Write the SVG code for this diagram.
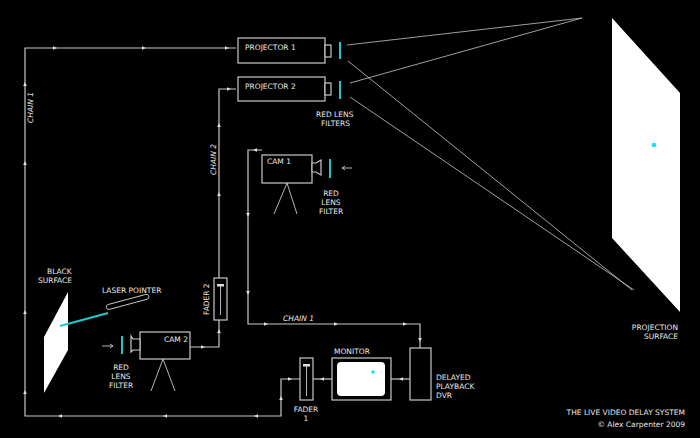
<svg xmlns="http://www.w3.org/2000/svg" width="700" height="438" viewBox="0 0 700 438">
<defs>
<style>
text{font-family:"DejaVu Sans","Liberation Sans",sans-serif;font-size:7.5px;fill:#e8e8e8}
.w{fill:none;stroke:#c8c8c8;stroke-width:1.2}
.b{fill:#000;stroke:#c8c8c8;stroke-width:1.2}
.c{stroke:#1ec8d0;stroke-width:2}
.t{fill:none;stroke:#c8c8c8;stroke-width:0.9}
</style>
<path id="a" d="M2,0 L-2,-1.8 L-2,1.8Z" fill="#e0e0e0"/>
</defs>
<rect width="700" height="438" fill="#000"/>
<g id="connectors">
<polyline class="w" points="236,48 25,48 25,416 281,416 281,379 300,379"/>
<polyline class="w" points="236,89 219,89 219,278"/>
<polyline class="w" points="190,347 219,347 219,320"/>
<polyline class="w" points="262,150 248,150 248,324 420,324 420,348"/>
<line class="w" x1="313" y1="379" x2="332" y2="379"/>
<line class="w" x1="391" y1="379" x2="410" y2="379"/>
<g>
<use href="#a" transform="translate(55,48)"/><use href="#a" transform="translate(144,48)"/><use href="#a" transform="translate(227,48)"/>
<use href="#a" transform="translate(25,84) rotate(-90)"/><use href="#a" transform="translate(25,163) rotate(-90)"/><use href="#a" transform="translate(25,312) rotate(-90)"/><use href="#a" transform="translate(25,392) rotate(-90)"/>
<use href="#a" transform="translate(60,416) rotate(180)"/><use href="#a" transform="translate(165,416) rotate(180)"/><use href="#a" transform="translate(256,416) rotate(180)"/>
<use href="#a" transform="translate(281,398) rotate(-90)"/><use href="#a" transform="translate(290,379)"/>
<use href="#a" transform="translate(229,89)"/><use href="#a" transform="translate(219,125) rotate(-90)"/><use href="#a" transform="translate(219,194) rotate(-90)"/>
<use href="#a" transform="translate(203,347)"/><use href="#a" transform="translate(219,331) rotate(-90)"/>
<use href="#a" transform="translate(255,150) rotate(180)"/><use href="#a" transform="translate(248,215) rotate(90)"/><use href="#a" transform="translate(248,293) rotate(90)"/>
<use href="#a" transform="translate(266,324)"/><use href="#a" transform="translate(336,324)"/><use href="#a" transform="translate(405,324)"/><use href="#a" transform="translate(420,340) rotate(90)"/>
<use href="#a" transform="translate(322,379) rotate(180)"/><use href="#a" transform="translate(401,379) rotate(180)"/>
</g>
<g stroke="#c8c8c8" stroke-width="0.8">
<line x1="347" y1="45" x2="582" y2="18"/><line x1="348" y1="61" x2="632" y2="290"/>
<line x1="350" y1="83" x2="582" y2="18"/><line x1="350" y1="97" x2="634" y2="290"/>
</g>
</g>
<g id="projector1"><rect class="b" x="238" y="38" width="87" height="25"/><rect class="b" x="325" y="45" width="6" height="12"/><line class="c" x1="340" y1="42" x2="340" y2="59"/><text x="245" y="50">PROJECTOR 1</text></g>
<g id="projector2"><rect class="b" x="238" y="77" width="87" height="24"/><rect class="b" x="325" y="83" width="6" height="12"/><line class="c" x1="340" y1="81" x2="340" y2="99"/><text x="245" y="89">PROJECTOR 2</text><text x="316" y="117">RED LENS</text><text x="321" y="126">FILTERS</text></g>
<g id="surface"><polygon points="612,18 680,93 680,312 612,238" fill="#fff"/><circle cx="654" cy="145" r="2.3" fill="#1ee0f0"/><text x="678" y="330" text-anchor="end">PROJECTION</text><text x="678" y="339" text-anchor="end">SURFACE</text></g>
<g id="cam1"><rect class="b" x="262" y="155" width="50" height="28"/><path class="b" d="M312,163 L316,163 L321,160 L321,175 L316,172 L312,172Z"/><line class="c" x1="330" y1="159" x2="330" y2="178"/><line class="t" x1="287" y1="183" x2="274" y2="214"/><line class="t" x1="287" y1="183" x2="297" y2="214"/><path d="M352,168 L342,168 M345,166 L342,168 L345,170" class="t"/><text x="267" y="164">CAM 1</text><text x="331" y="196" text-anchor="middle">RED</text><text x="331" y="205" text-anchor="middle">LENS</text><text x="331" y="214" text-anchor="middle">FILTER</text></g>
<g id="cam2"><rect class="b" x="140" y="332" width="50" height="27"/><path class="b" d="M140,339 L133,339 L131,336 L131,352 L133,350 L140,350Z"/><line class="c" x1="122" y1="336" x2="122" y2="354"/><line class="t" x1="163" y1="359" x2="151" y2="391"/><line class="t" x1="163" y1="359" x2="175" y2="391"/><path d="M102,346 L113,346 M110,344 L113,346 L110,348" class="t"/><text x="164" y="342">CAM 2</text><text x="121" y="370" text-anchor="middle">RED</text><text x="121" y="379" text-anchor="middle">LENS</text><text x="121" y="388" text-anchor="middle">FILTER</text></g>
<g id="fader2"><rect class="b" x="214" y="278" width="13" height="42"/><line class="t" x1="220.5" y1="285" x2="220.5" y2="315"/><rect x="217" y="284" width="7" height="2.5" fill="#ddd"/><text transform="translate(209,315) rotate(-90)">FADER 2</text></g>
<g id="fader1"><rect class="b" x="300" y="358" width="13" height="42"/><line class="t" x1="306.5" y1="364" x2="306.5" y2="396"/><rect x="303" y="364" width="7" height="2.5" fill="#ddd"/><text x="306" y="412" text-anchor="middle">FADER</text><text x="306" y="421" text-anchor="middle">1</text></g>
<g id="monitor"><rect class="b" x="332" y="358" width="59" height="42"/><rect x="337" y="362" width="48" height="34" rx="4" fill="#fff"/><circle cx="373" cy="372" r="1.8" fill="#1ee0f0"/><text x="334" y="354">MONITOR</text></g>
<g id="dvr"><rect class="b" x="410" y="348" width="21" height="52"/><text x="436" y="380">DELAYED</text><text x="436" y="389">PLAYBACK</text><text x="436" y="398">DVR</text></g>
<g id="black-surface"><polygon points="68,292 68,350 44,393 44,337" fill="#fff"/><text x="47" y="274">BLACK</text><text x="38" y="283">SURFACE</text></g>
<g id="laser"><line class="c" x1="60" y1="326" x2="108" y2="313"/><rect class="t" x="107" y="305" width="44" height="5" rx="2.5" transform="rotate(-15 107 310)"/><text x="102" y="293">LASER POINTER</text></g>
<g id="labels"><text transform="translate(33,123) rotate(-90)" font-style="italic">CHAIN 1</text><text transform="translate(216,175) rotate(-90)" font-style="italic">CHAIN 2</text><text x="283" y="321" font-style="italic">CHAIN 1</text><text x="685" y="415" text-anchor="end">THE LIVE VIDEO DELAY SYSTEM</text><text x="685" y="427" font-size="6.5" text-anchor="end">© Alex Carpenter 2009</text></g>
</svg>
